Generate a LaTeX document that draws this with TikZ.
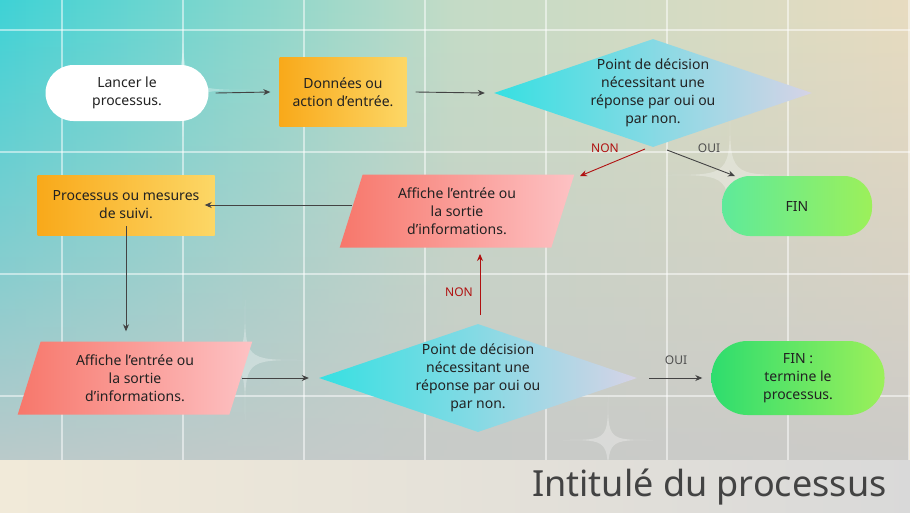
\documentclass[tikz,border=0pt]{standalone}
\usepackage{fontspec}
\setmainfont{Noto Sans}
\usetikzlibrary{shapes.geometric,arrows.meta,fadings}
\definecolor{teal1}{HTML}{3ED3D6}
\definecolor{mid1}{HTML}{C4DCC6}
\definecolor{beige1}{HTML}{E8DCC0}
\definecolor{grey1}{HTML}{C9C9C9}
\definecolor{org1}{HTML}{F9A91A}
\definecolor{org2}{HTML}{FCD766}
\definecolor{red1}{HTML}{F7776B}
\definecolor{pink1}{HTML}{FDC2C4}
\definecolor{cyan1}{HTML}{36E0E2}
\definecolor{lav1}{HTML}{D6D3E6}
\definecolor{grn1}{HTML}{5EEA9A}
\definecolor{grn2}{HTML}{9CF05A}
\definecolor{grn3}{HTML}{2EDD6E}
\definecolor{txt}{HTML}{222222}
\definecolor{nonred}{HTML}{B01010}
\tikzset{
 fnt/.style={font=\fontsize{14}{18}\selectfont},
 lbl/.style={font={\fontsize{12}{14}\selectfont\bfseries}, text=txt!80, align=center},
 pill/.style={rounded corners=28pt, inner sep=0, align=center, text=txt, fnt},
 box/.style={inner sep=0, align=center, text=txt, fnt, left color=org1, right color=org2},
 para/.style={trapezium, trapezium left angle=73, trapezium right angle=107, inner sep=0, align=center, text=txt, fnt, left color=red1, right color=pink1, trapezium stretches=true},
 dia/.style={diamond, inner sep=0, left color=cyan1, right color=lav1},
 ttext/.style={align=center, text=txt, fnt, inner sep=0},
 arr/.style={-{Stealth[length=7pt,width=6pt]}, draw=txt!85, line width=0.9pt},
 rarr/.style={-{Stealth[length=7pt,width=6pt]}, draw=nonred, line width=0.9pt},
 star/.style={fill=white, opacity=0.3}
}
\begin{document}
\begin{tikzpicture}[x=1pt,y=-1pt]
\useasboundingbox (0,0) rectangle (910,512);
\shade[left color=teal1, right color=beige1, middle color=mid1] (0,0) rectangle (910,512);
\fill[grey1, path fading=north] (0,0) rectangle (910,512);
\foreach \x in {62,183,...,910} \draw[white, opacity=0.5, line width=1.5pt] (\x,0) -- (\x,460);
\foreach \y in {30,152,...,460} \draw[white, opacity=0.5, line width=1.5pt] (0,\y) -- (910,\y);
\foreach \cx/\cy/\r in {183/90/75, 730/175/65, 245/360/60, 608/440/45} {
  \fill[star] (\cx,\cy-\r) .. controls (\cx,\cy) .. (\cx+\r,\cy) .. controls (\cx,\cy) .. (\cx,\cy+\r) .. controls (\cx,\cy) .. (\cx-\r,\cy) .. controls (\cx,\cy) .. (\cx,\cy-\r) -- cycle;
}
\shade[left color=beige1!60!white, right color=grey1!70!white] (0,460) rectangle (910,512);
\node[anchor=east, text=txt!85, font=\fontsize{36}{40}\selectfont] (title) at (890,487) {Intitulé du processus};

\node[pill, fill=white, minimum width=163pt, minimum height=56pt] (n1) at (127,93) {Lancer le\\processus.};
\node[box, minimum width=127pt, minimum height=69pt] (n2) at (343,92) {Données ou\\action d’entrée.};
\node[dia, minimum width=318pt, minimum height=108pt] (n3) at (653,93) {};
\node[ttext] (n3t) at (n3.center) {Point de décision\\nécessitant une\\réponse par oui ou\\par non.};
\node[pill, left color=grn1, right color=grn2, minimum width=150pt, minimum height=60pt] (n4) at (797,206) {FIN};
\node[para, minimum width=235pt, minimum height=73pt] (n5) at (457,211) {Affiche l’entrée ou\\la sortie\\d’informations.};
\node[box, minimum width=177pt, minimum height=60pt] (n6) at (126,205) {Processus ou mesures\\de suivi.};
\node[para, minimum width=235pt, minimum height=73pt] (n7) at (135,378) {Affiche l’entrée ou\\la sortie\\d’informations.};
\node[dia, minimum width=318pt, minimum height=108pt] (n8) at (478,378) {};
\node[ttext] (n8t) at (n8.center) {Point de décision\\nécessitant une\\réponse par oui ou\\par non.};
\node[pill, left color=grn3, right color=grn2, minimum width=173pt, minimum height=74pt, rounded corners=36pt] (n9) at (798,378) {FIN :\\termine le\\processus.};

\draw[arr] ([xshift=7pt]n1.east) -- ([xshift=-9pt]n2.west);
\draw[arr] ([xshift=9pt]n2.east) -- ([xshift=-9pt]n3.west);
\coordinate (c3a) at (645,149); \coordinate (c3b) at (667,150);
\draw[rarr] (c3a) -- (580,176);
\draw[arr] (c3b) -- (735,176);
\node[lbl, text=nonred] (l1) at (605,148) {NON};
\node[lbl] (l2) at (709,148) {OUI};
\draw[arr] (352,205) -- ([xshift=-10pt]n6.east);
\draw[arr] ([yshift=9pt]n6.south) -- ([yshift=10pt]n7.north -| n6.south);
\draw[arr] (242,378) -- ([xshift=-10pt]n8.west);
\coordinate (c8) at (480,315);
\draw[rarr] (c8) -- (480,254);
\node[lbl, text=nonred] (l3) at (459,292) {NON};
\draw[arr] (649,378) -- ([xshift=-9pt]n9.west);
\node[lbl] (l4) at (676,360) {OUI};
\end{tikzpicture}
\end{document}
